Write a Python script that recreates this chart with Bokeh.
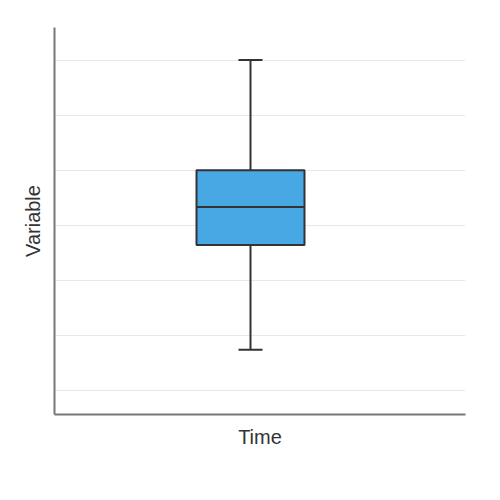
from bokeh.plotting import figure
from bokeh.models import Range1d, FixedTicker
from bokeh.embed import file_html
from bokeh.resources import INLINE

# Box summary
categories = ["Time"]
q_min = [1.74]
q1 = [3.64]
median = [4.33]
q3 = [5.0]
q_max = [7.0]
y_ticks = [1, 2, 3, 4, 5, 6, 7]

xpos = [0.0]
box_w = 1.08
cap_w = 0.24

p = figure(width=488, height=488, output_backend="svg", toolbar_location=None,
           x_range=Range1d(-1.96, 2.15), y_range=Range1d(0.565, 7.59),
           min_border_left=54, min_border_right=23, min_border_top=27, min_border_bottom=74)
p.outline_line_color = None
p.background_fill_color = "white"
p.border_fill_color = "white"

# whiskers
p.segment(x0=xpos, y0=q3, x1=xpos, y1=q_max, line_color="#333333", line_width=2)
p.segment(x0=xpos, y0=q_min, x1=xpos, y1=q1, line_color="#333333", line_width=2)
p.segment(x0=[x - cap_w / 2 for x in xpos], y0=q_max, x1=[x + cap_w / 2 for x in xpos], y1=q_max,
          line_color="#333333", line_width=2)
p.segment(x0=[x - cap_w / 2 for x in xpos], y0=q_min, x1=[x + cap_w / 2 for x in xpos], y1=q_min,
          line_color="#333333", line_width=2)
# box
p.vbar(x=xpos, width=box_w, bottom=q1, top=q3, fill_color="#48a8e3",
       line_color="#333333", line_width=2)
p.segment(x0=[x - box_w / 2 for x in xpos], y0=median, x1=[x + box_w / 2 for x in xpos], y1=median,
          line_color="#333333", line_width=2)

p.yaxis.ticker = FixedTicker(ticks=[])
p.xaxis.ticker = FixedTicker(ticks=[])
p.ygrid.ticker = FixedTicker(ticks=y_ticks)
p.xgrid.grid_line_color = None
p.ygrid.grid_line_color = "#e8e8e8"
p.ygrid.grid_line_width = 1

for ax in (p.xaxis, p.yaxis):
    ax.major_tick_line_color = None
    ax.minor_tick_line_color = None
    ax.major_tick_out = 0
    ax.major_label_standoff = 0
    ax.axis_line_color = "#777777"
    ax.axis_line_width = 2
    ax.axis_label_text_font = "Liberation Sans"
    ax.axis_label_text_font_style = "normal"
    ax.axis_label_text_font_size = "20px"
    ax.axis_label_text_color = "#333333"

p.xaxis.axis_label = categories[0]
p.yaxis.axis_label = "Variable"
p.xaxis.axis_label_standoff = 11
p.yaxis.axis_label_standoff = 11

open("out.html", "w").write(file_html(p, INLINE))
